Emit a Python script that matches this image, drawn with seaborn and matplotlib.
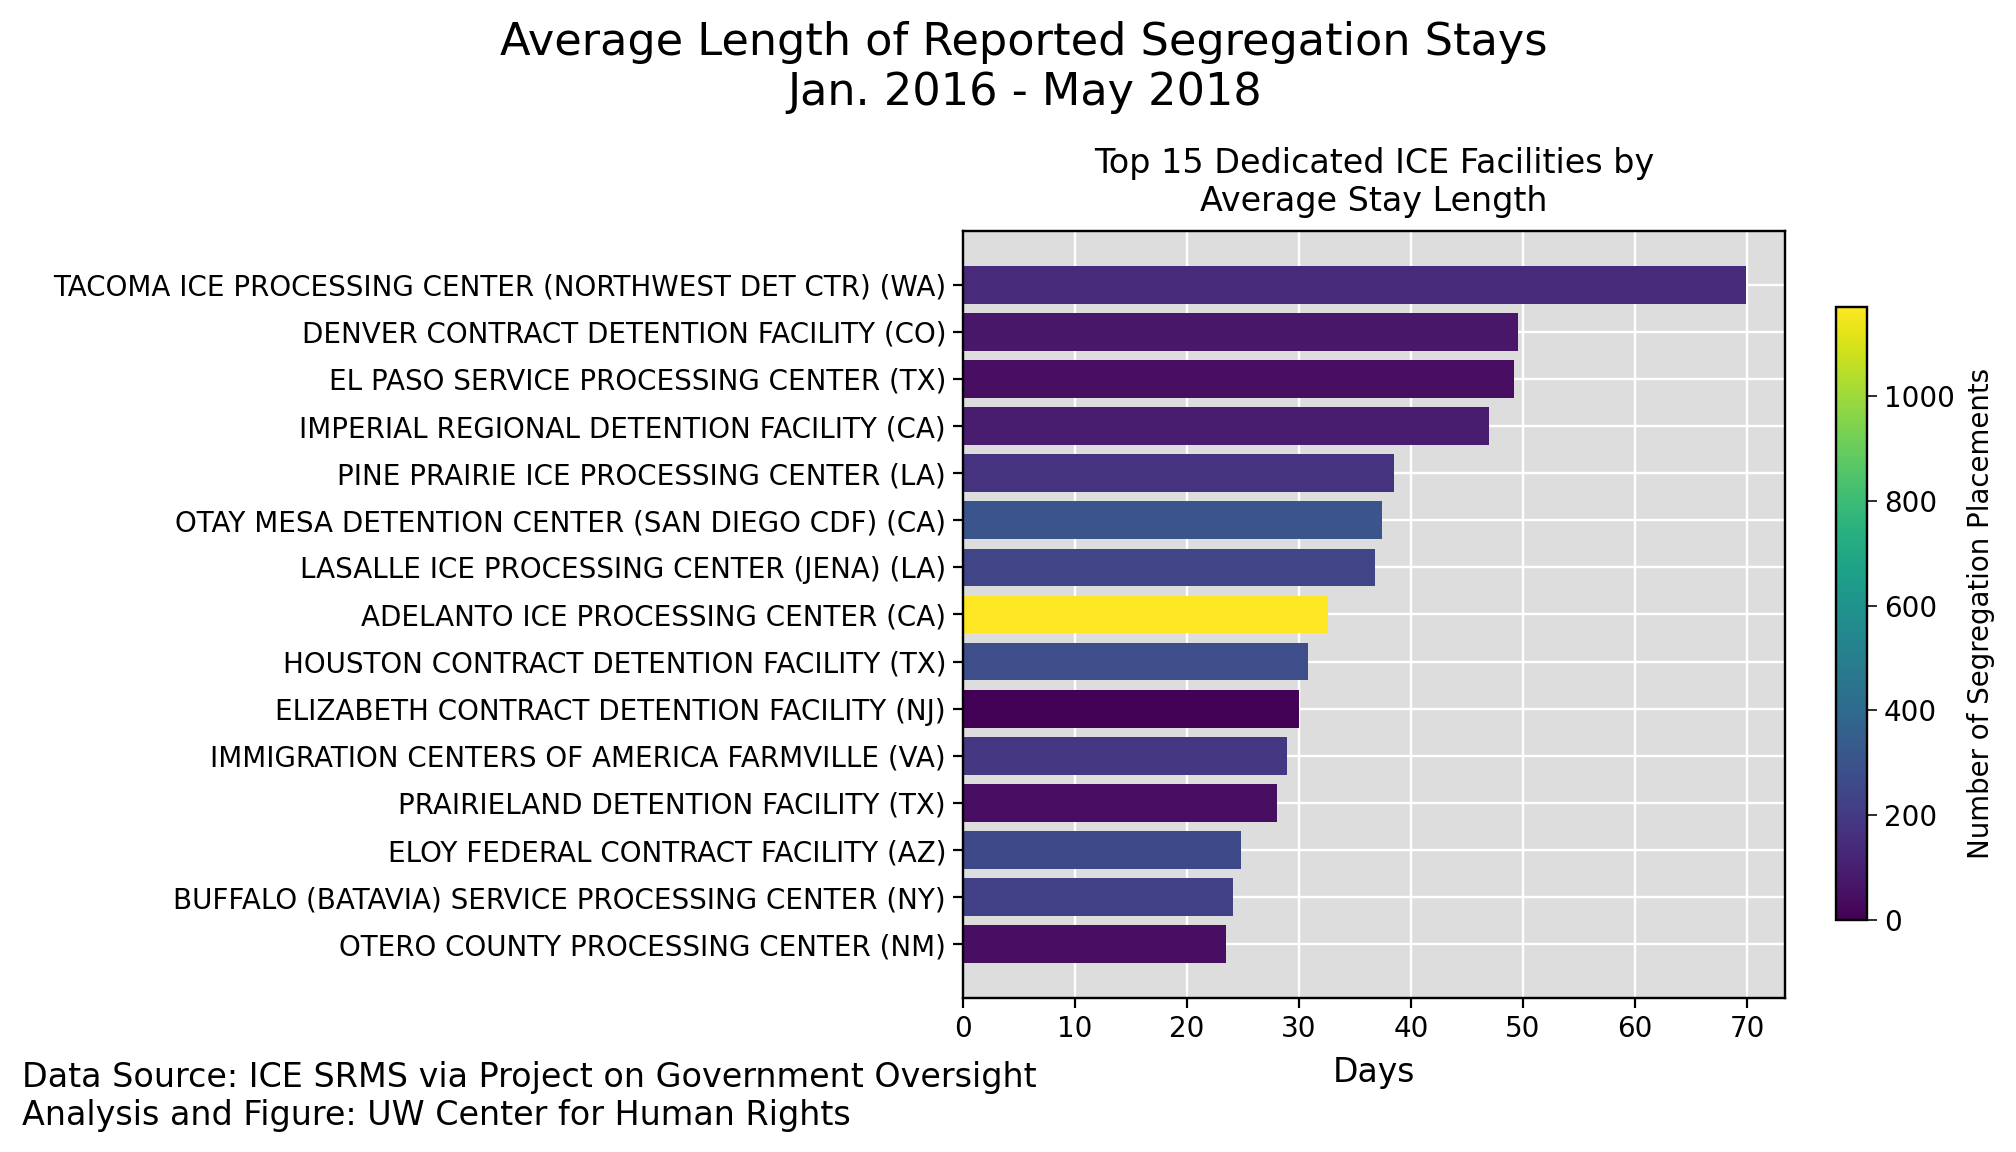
import numpy as np
import pandas as pd
import matplotlib
matplotlib.use("Agg")
import matplotlib.pyplot as plt
import seaborn as sns

facilities = [
    "TACOMA ICE PROCESSING CENTER (NORTHWEST DET CTR) (WA)",
    "DENVER CONTRACT DETENTION FACILITY (CO)",
    "EL PASO SERVICE PROCESSING CENTER (TX)",
    "IMPERIAL REGIONAL DETENTION FACILITY (CA)",
    "PINE PRAIRIE ICE PROCESSING CENTER (LA)",
    "OTAY MESA DETENTION CENTER (SAN DIEGO CDF) (CA)",
    "LASALLE ICE PROCESSING CENTER (JENA) (LA)",
    "ADELANTO ICE PROCESSING CENTER (CA)",
    "HOUSTON CONTRACT DETENTION FACILITY (TX)",
    "ELIZABETH CONTRACT DETENTION FACILITY (NJ)",
    "IMMIGRATION CENTERS OF AMERICA FARMVILLE (VA)",
    "PRAIRIELAND DETENTION FACILITY (TX)",
    "ELOY FEDERAL CONTRACT FACILITY (AZ)",
    "BUFFALO (BATAVIA) SERVICE PROCESSING CENTER (NY)",
    "OTERO COUNTY PROCESSING CENTER (NM)",
]
avg_days = [69.9, 49.6, 49.2, 47.0, 38.5, 37.4, 36.8, 32.6, 30.8, 30.0,
            28.9, 28.0, 24.8, 24.1, 23.5]
placements = [140, 70, 40, 95, 170, 305, 235, 1170, 275, 8,
              185, 45, 260, 220, 45]

df = pd.DataFrame({"facility": facilities, "days": avg_days, "count": placements})

vmax = max(placements)
norm = plt.Normalize(0, vmax)
cmap = plt.get_cmap("viridis")
colors = [cmap(norm(c)) for c in placements]

sns.set_style("darkgrid", {"axes.facecolor": "#dddddd", "axes.edgecolor": "black",
                           "grid.color": "white", "xtick.bottom": True, "ytick.left": True,
                           "text.color": "black", "axes.labelcolor": "black",
                           "xtick.color": "black", "ytick.color": "black"})

fig = plt.figure(figsize=(14, 8), dpi=144)
ax = fig.add_axes([0.4777, 0.1337, 0.4077, 0.6658])

sns.barplot(data=df, x="days", y="facility", hue="facility", palette=colors,
            legend=False, width=0.8, saturation=1, linewidth=0, edgecolor="none", ax=ax)

n = len(facilities)
pad = 0.05 * (n - 1 + 0.8)
ax.set_ylim(n - 1 + 0.4 + pad, -0.4 - pad)
ax.set_xticks(np.arange(0, 80, 10))
ax.grid(True, color="white", linewidth=1.2)
for s in ax.spines.values():
    s.set_visible(True)
    s.set_color("black")
    s.set_linewidth(1.2)
ax.tick_params(axis="both", labelsize=13.9, length=5, width=1.1, color="black")
ax.set_ylabel("")
ax.set_xlabel("Days", fontsize=16.5, labelpad=6.5)
ax.set_title("Top 15 Dedicated ICE Facilities by\nAverage Stay Length", fontsize=16.7, pad=10)

cax = fig.add_axes([0.9107, 0.2014, 0.0154, 0.532])
sm = plt.cm.ScalarMappable(norm=norm, cmap=cmap)
cb = fig.colorbar(sm, cax=cax)
cb.set_label("Number of Segregation Placements", fontsize=13.8, labelpad=6)
cb.ax.tick_params(labelsize=13.9, length=5, color="black")
cb.outline.set_edgecolor("black")
cb.outline.set_linewidth(1.2)

fig.suptitle("Average Length of Reported Segregation Stays\nJan. 2016 - May 2018",
             fontsize=22.3, x=0.508, y=0.982)
fig.text(0.011, 0.079, "Data Source: ICE SRMS via Project on Government Oversight\n"
         "Analysis and Figure: UW Center for Human Rights", fontsize=16.7, va="top",
         linespacing=1.2)

fig.savefig("out.png", dpi=144)
